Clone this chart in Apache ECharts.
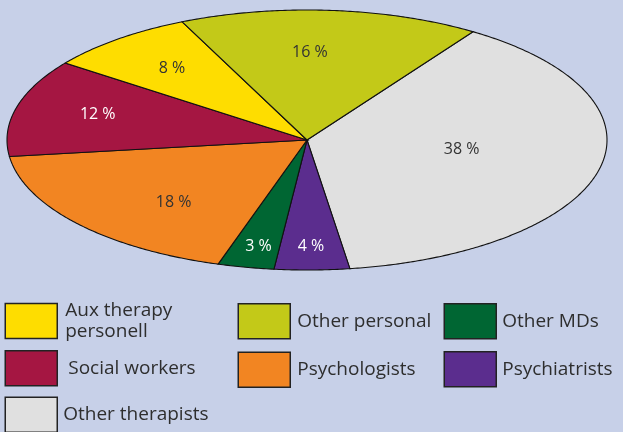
<!DOCTYPE html>
<html>
<head>
<meta charset="utf-8">
<script src="https://cdn.jsdelivr.net/npm/echarts@6/dist/echarts.min.js"></script>
<style>
html, body { margin: 0; padding: 0; background: #c7d0e8; }
#main { width: 623px; height: 432px; }
</style>
</head>
<body>
<div id="main"></div>
<script>
// data, clockwise from the top-right edge of the ellipse
var categories = ['Other therapists', 'Psychiatrists', 'Other MDs', 'Psychologists', 'Social workers', 'Aux therapy personell', 'Other personal'];
var shares = [38, 4, 3, 18, 12, 8, 16];

// styling
var colors = ['#e0e0e0', '#5b2d8e', '#006633', '#f28522', '#a51642', '#fedd00', '#c3c918'];
var labelColors = ['#333', '#fff', '#fff', '#333', '#fff', '#333', '#333'];
// label distance (fraction of radius) and angle nudge (degrees) per slice
var labelRadius = [0.52, 0.82, 0.835, 0.655, 0.725, 0.71, 0.677];
var labelShift = [-5, 0, -0.6, -7.2, 1.3, -0.2, -3.7];

var cx = 307, cy = 140, rx = 300, ry = 130, startDeg = 33.6;
var total = shares.reduce(function(a, b) { return a + b; }, 0);

function renderSlice(params, api) {
	var i = params.seriesIndex;
	var before = 0;
	for (var k = 0; k < i; k++) before += shares[k];
	var a0 = startDeg + before / total * 360;
	var a1 = a0 + api.value(0) / total * 360;
	var pts = [[cx, cy]];
	var steps = Math.max(2, Math.ceil((a1 - a0) / 0.5));
	for (var s = 0; s <= steps; s++) {
		var rad = (a0 + (a1 - a0) * s / steps) * Math.PI / 180;
		pts.push([cx + rx * Math.sin(rad), cy - ry * Math.cos(rad)]);
	}
	var mid = ((a0 + a1) / 2 + labelShift[i]) * Math.PI / 180;
	var f = labelRadius[i];
	return {
		type : 'group',
		children : [{
			type : 'polygon',
			shape : { points : pts },
			style : { fill : colors[i], stroke : '#111', lineWidth : 1.1 }
		}, {
			type : 'text',
			x : cx + rx * f * Math.sin(mid),
			y : cy - ry * f * Math.cos(mid),
			style : {
				text : api.value(0) + ' %',
				fill : labelColors[i],
				font : '16px "Open Sans"',
				align : 'center',
				verticalAlign : 'middle',
				textAlign : 'center',
				textVerticalAlign : 'middle'
			}
		}]
	};
}

var series = categories.map(function(name, i) {
	return {
		type : 'custom',
		name : name,
		coordinateSystem : 'none',
		silent : true,
		itemStyle : { color : colors[i] },
		renderItem : renderSlice,
		data : [shares[i]]
	};
});

var legendBase = {
	orient : 'vertical',
	icon : 'rect',
	itemWidth : 52,
	itemHeight : 35,
	padding : 0,
	height : 120,
	selectedMode : false,
	itemStyle : { borderColor : '#222', borderWidth : 1.5 },
	textStyle : { fontFamily : 'Open Sans', fontSize : 19, color : '#2e2e2e', lineHeight : 21.5 }
};

function legend(opts) {
	return Object.assign({}, legendBase, opts);
}

var myChart = echarts.init(document.getElementById('main'));

var option = {
	backgroundColor : '#c7d0e8',
	animation : false,
	legend : [
		legend({
			left : 4.5, top : 299.5,
			data : [{ name : 'Aux therapy personell', textStyle : { padding : [0, 0, 0, 3] } }],
			formatter : function(name) { return name.replace(' personell', '\npersonell'); }
		}),
		legend({
			left : 4.5, top : 350,
			data : [{ name : 'Social workers', textStyle : { padding : [0, 0, 0, 6] } }]
		}),
		legend({
			left : 4.5, top : 396.5,
			data : [{ name : 'Other therapists', textStyle : { padding : [0, 0, 0, 1] } }]
		}),
		legend({
			left : 237.5, top : 303, itemGap : 12,
			data : [{ name : 'Other personal', textStyle : { padding : [0, 0, 0, 2] } },
					{ name : 'Psychologists', textStyle : { padding : [0, 0, 0, 2] } }]
		}),
		legend({
			left : 443.5, top : 303, itemGap : 11.5,
			data : [{ name : 'Other MDs', textStyle : { padding : [0, 0, 0, 1] } },
					{ name : 'Psychiatrists', textStyle : { padding : [0, 0, 0, 1] } }]
		})
	],
	series : series
};

myChart.setOption(option);
</script>
</body>
</html>
